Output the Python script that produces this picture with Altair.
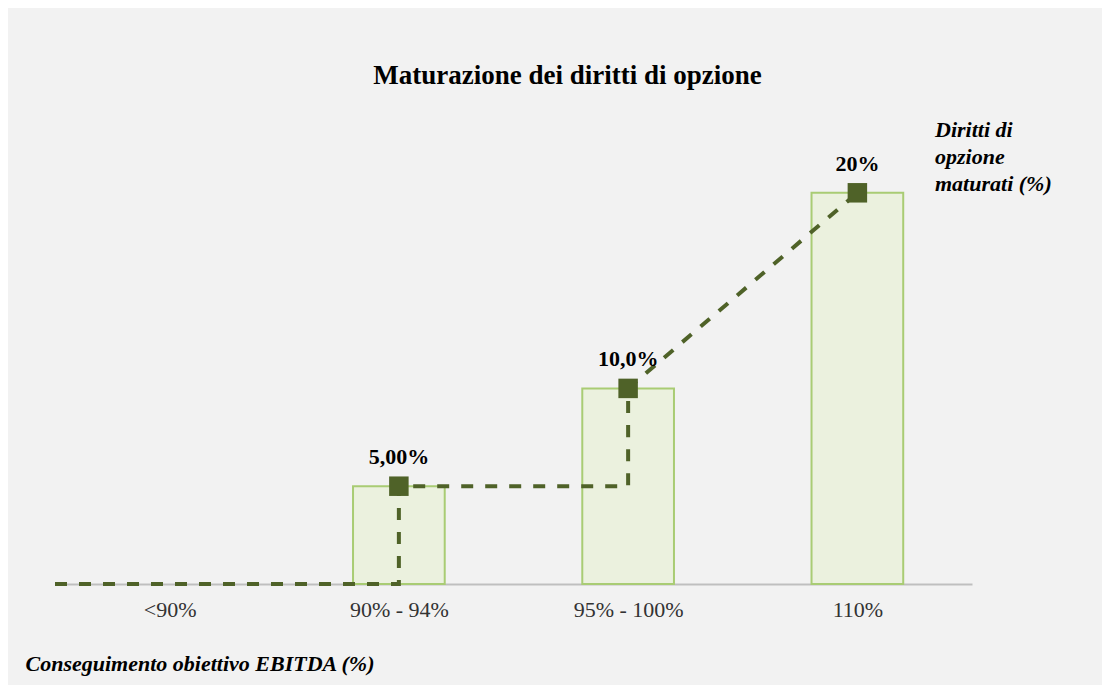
import altair as alt
import pandas as pd

categories = ["<90%", "90% - 94%", "95% - 100%", "110%"]
values = [0, 5, 10, 20]
value_labels = ["", "5,00%", "10,0%", "20%"]

# dashed path of vested options (category position, value)
line_pos = [-0.5, 1, 1, 2, 2, 3]
line_val = [0, 0, 5, 5, 10, 20]

title_text = "Maturazione dei diritti di opzione"
x_title = "Conseguimento obiettivo EBITDA (%)"
series_title = ["Diritti di", "opzione", "maturati (%)"]

SERIF = "Liberation Serif"
DARK = "#4f6228"

bars_df = pd.DataFrame({
    "idx": list(range(len(categories))),
    "cat": categories,
    "val": values,
    "label": value_labels,
})
bars_df["x0"] = bars_df["idx"] - 0.2
bars_df["x1"] = bars_df["idx"] + 0.2

line_df = pd.DataFrame({"pos": line_pos, "val": line_val, "order": list(range(len(line_pos)))})

label_expr = "[" + ",".join(f"'{c}'" for c in categories) + "][datum.value]"

xscale = alt.Scale(domain=[-0.5, len(categories) - 0.5], nice=False, zero=False)
yscale = alt.Scale(domain=[0, 25], nice=False)

x_axis = alt.Axis(
    values=list(range(len(categories))),
    labelExpr=label_expr,
    title=x_title,
    titleFont=SERIF, titleFontSize=22, titleFontWeight="bold", titleFontStyle="italic",
    titleColor="#000000", titleAnchor="start", titleAlign="left", titleBaseline="middle",
    titleX=-30, titleY=79,
    labelFont=SERIF, labelFontSize=22, labelColor="#333333", labelPadding=15,
    ticks=False, grid=False,
    domainColor="#bfbfbf", domainWidth=2,
    zindex=0,
)

base = alt.Chart(bars_df)

bars = base.transform_filter("datum.val > 0").mark_rect(
    fill="#ebf1de", stroke="#a9cc74", strokeWidth=2
).encode(
    x=alt.X("x0:Q", scale=xscale, axis=x_axis),
    x2="x1:Q",
    y=alt.Y("val:Q", scale=yscale, axis=None),
    y2=alt.datum(0),
)

line = alt.Chart(line_df).mark_line(
    color=DARK, strokeWidth=4, strokeDash=[12, 12]
).encode(
    x=alt.X("pos:Q", scale=xscale),
    y=alt.Y("val:Q", scale=yscale),
    order="order:O",
)

points = base.transform_filter("datum.val > 0").mark_point(
    shape="square", filled=True, size=380, color=DARK, opacity=1
).encode(
    x=alt.X("idx:Q", scale=xscale),
    y=alt.Y("val:Q", scale=yscale),
)

labels = base.transform_filter("datum.val > 0").mark_text(
    font=SERIF, fontSize=22, fontWeight="bold", color="#000000", dy=-29, baseline="middle"
).encode(
    x=alt.X("idx:Q", scale=xscale),
    y=alt.Y("val:Q", scale=yscale),
    text="label:N",
)

series_df = pd.DataFrame({"t": [series_title]})
series_lbl = alt.Chart(series_df).mark_text(
    font=SERIF, fontSize=22, fontWeight="bold", fontStyle="italic", color="#000000",
    align="left", baseline="middle", lineHeight=27,
).encode(
    x=alt.value(880), y=alt.value(35), text="t",
)

chart = alt.layer(bars, line, points, labels, series_lbl).properties(
    width=917,
    height=489,
    title=alt.TitleParams(
        title_text, font=SERIF, fontSize=27, fontWeight="bold", color="#000000",
        anchor="middle", offset=5, dx=54,
    ),
    background="#f2f2f2",
    padding={"left": 47, "top": 87, "right": 130, "bottom": 101},
    autosize=alt.AutoSizeParams(type="none"),
).configure_view(stroke=None)

chart.save("out.html", embed_options={"renderer": "svg", "actions": False})
